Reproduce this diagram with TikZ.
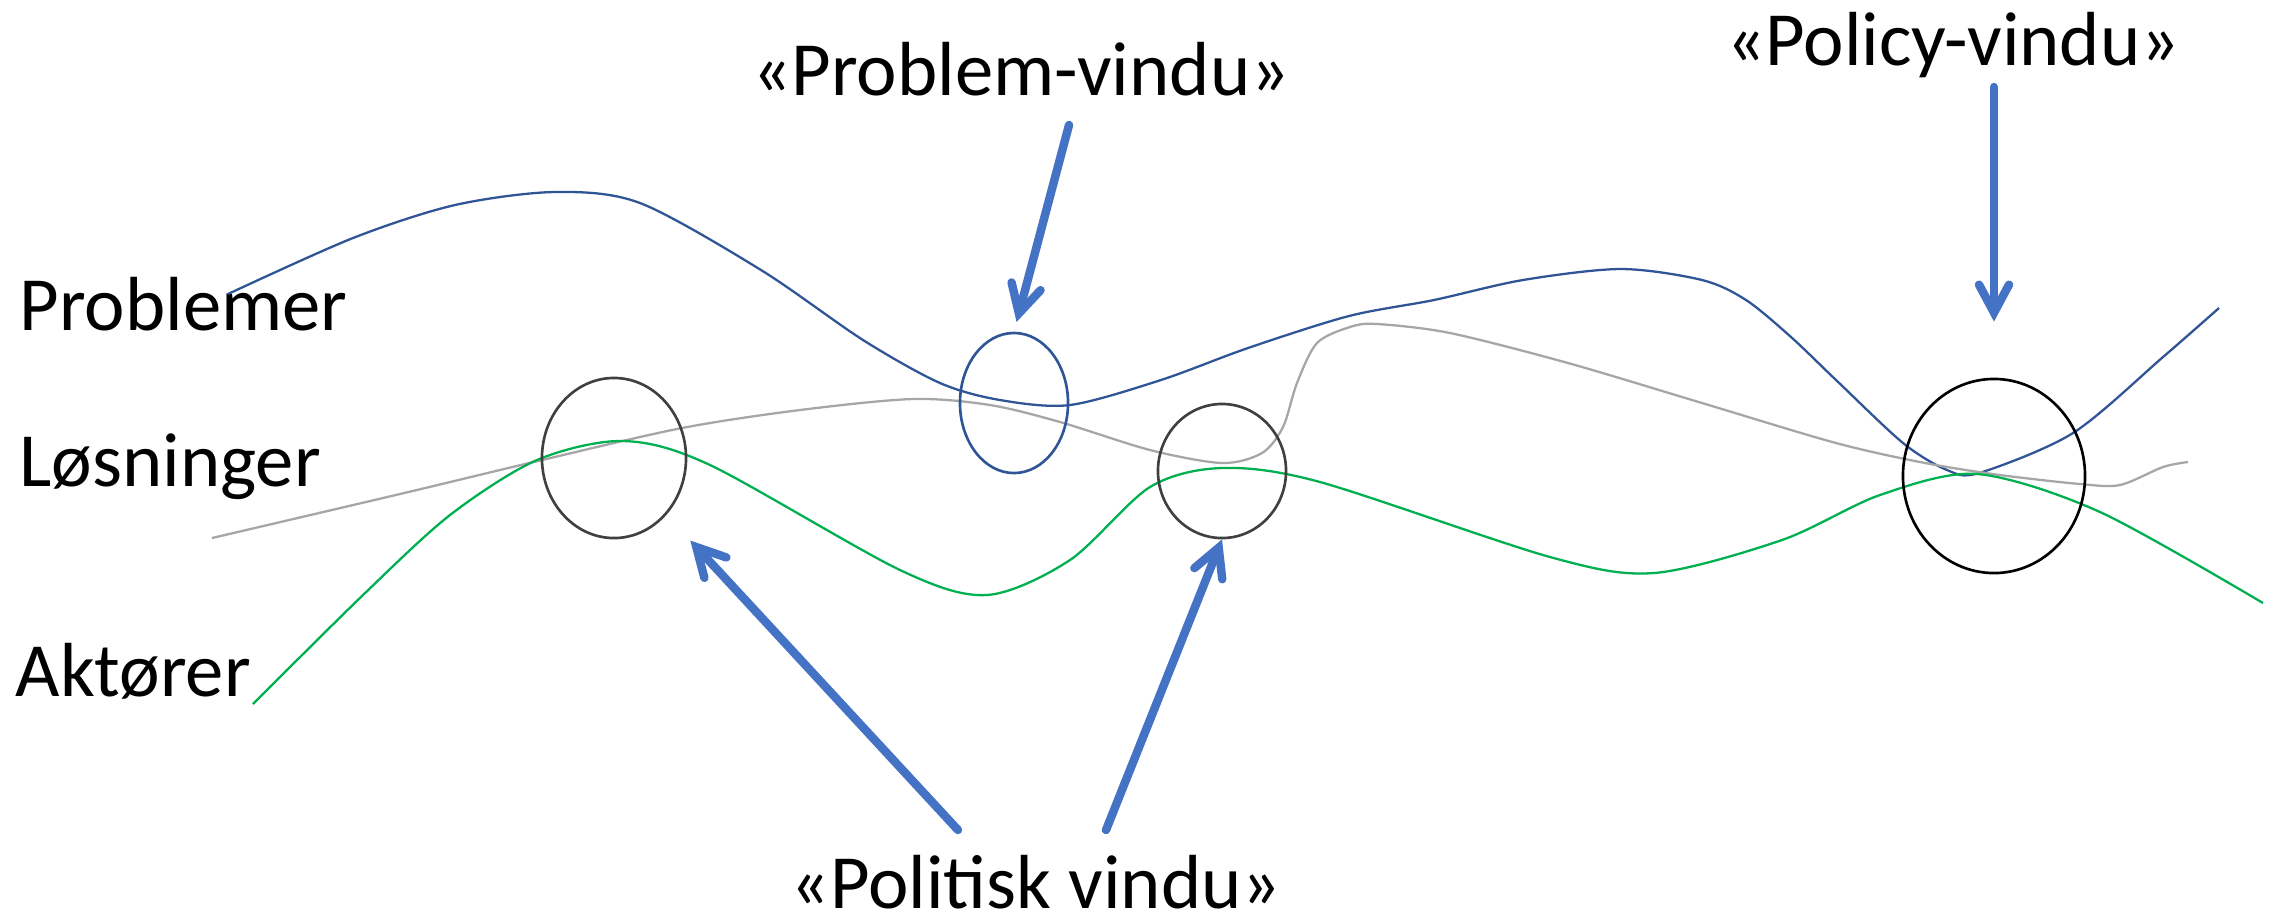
\documentclass[tikz,border=0pt]{standalone}
\usepackage{fontspec}
\setmainfont{Carlito}
\usepackage{tikz}
\usetikzlibrary{shapes.geometric}
\usetikzlibrary{arrows.meta}

\definecolor{probblue}{HTML}{2F5597}
\definecolor{arrowblue}{HTML}{4472C4}
\definecolor{solgrey}{HTML}{A6A6A6}
\definecolor{actgreen}{HTML}{00B050}
\definecolor{ringgrey}{HTML}{404040}

\begin{document}
\begin{tikzpicture}[x=0.01cm, y=-0.01cm,
    rowtext/.style={inner sep=0pt, font=\fontsize{21.8}{26}\selectfont},
    window/.style={draw, ellipse, inner sep=0pt, line width=0.75pt},
    stream/.style={line width=0.65pt, smooth, tension=0.5},
    pointer/.style={arrowblue, line width=2.4pt, line cap=round,
        -{Straight Barb[length=2.8mm, width=3mm, line cap=round]}}]
        \useasboundingbox (0,0) rectangle (2275,923);

        % Stream labels
        \node[rowtext, anchor=base west] (problemer) at (19,330) {Problemer};
        \node[rowtext, anchor=base west] (losninger) at (19,486) {Løsninger};
        \node[rowtext, anchor=base west] (aktorer) at (15,696) {Aktører};

        % Window labels
        \node[rowtext, anchor=base] (probwin) at (1021,95) {«Problem-vindu»};
        \node[rowtext, anchor=base] (policywin) at (1953,65) {«Policy-vindu»};
        \node[rowtext, anchor=base] (politisk) at (1036,908) {«Politisk vindu»};

        % Draw the three streams
        \draw[stream, probblue] plot coordinates {(228,294) (353,238) (455,205) (555,192)
            (640,203) (761,270) (863,340) (940,383) (1000,400) (1070,405) (1161,380) (1248,348)
            (1349,316) (1434,300) (1523,280) (1621,269) (1702,280) (1746,300) (1791,337) (1836,380)
            (1903,443) (1947,470) (1979,473) (2073,433) (2163,357) (2219,308)};
        \draw[stream, solgrey] plot coordinates {(212,538) (400,494) (542,460) (682,428) (800,410)
            (913,399) (990,405) (1060,422) (1150,450) (1222,463) (1262,453) (1283,427) (1297,383)
            (1317,343) (1350,327) (1377,324) (1450,333) (1568,363) (1702,403) (1836,443) (1925,463)
            (2000,475) (2080,484) (2120,485) (2163,467) (2188,462)};
        \draw[stream, actgreen] plot coordinates {(253,704) (363,595) (450,515) (537,460) (623,441)
            (710,465) (900,570) (987,595) (1070,560) (1150,487) (1222,468) (1320,482) (1550,557)
            (1654,573) (1782,540) (1880,495) (1977,474) (2100,512) (2263,603)};

        % Draw the windows
        \node[window, ringgrey, minimum width=1.44cm, minimum height=1.6cm] (pol1) at (614,458) {};
        \node[window, probblue, minimum width=1.08cm, minimum height=1.4cm] (prob) at (1014,403) {};
        \node[window, ringgrey, minimum width=1.28cm, minimum height=1.34cm] (pol2) at (1222,471) {};
        \node[window, black, minimum width=1.82cm, minimum height=1.94cm] (policy) at (1994,476) {};

        % Arrow tails
        \coordinate (probtail) at (1069,125);
        \coordinate (policytail) at (1994,87);
        \coordinate (poltail1) at (958,830);
        \coordinate (poltail2) at (1106,830);

        % Draw the pointers
        \draw[pointer, shorten >=1mm] (probtail) -- (prob.north);
        \draw[pointer, shorten >=5.6mm] (policytail) -- (policy.north);
        \draw[pointer, shorten >=3.5mm] (poltail1) -- (pol1);
        \draw[pointer] (poltail2) -- (pol2.south);

      \end{tikzpicture}
\end{document}
